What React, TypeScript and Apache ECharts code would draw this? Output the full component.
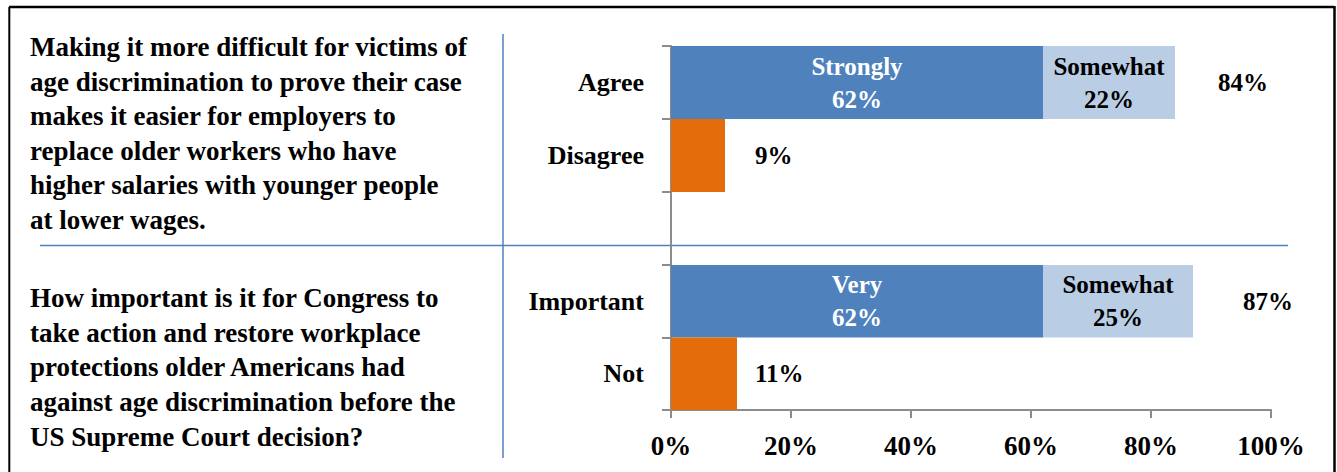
import React, { useEffect, useRef } from "react";
import * as echarts from "echarts";

const topCategories = ["Agree", "Disagree", ""];
const topSegments = ["Strongly", "Somewhat"];
const topPositive = [62, 22];
const topTotal = 84;
const topNegative = 9;

const bottomCategories = ["Important", "Not"];
const bottomSegments = ["Very", "Somewhat"];
const bottomPositive = [62, 25];
const bottomTotal = 87;
const bottomNegative = 11;

const xTicks = [0, 20, 40, 60, 80, 100];

const questionTop = [
  "Making it more difficult for victims of",
  "age discrimination to prove their case",
  "makes it easier for employers to",
  "replace older workers who have",
  "higher salaries with younger people",
  "at lower wages.",
];
const questionBottom = [
  "How important is it for Congress to",
  "take action and restore workplace",
  "protections older Americans had",
  "against age discrimination before the",
  "US Supreme Court decision?",
];

const FONT = "'Liberation Serif', 'Times New Roman', serif";
const BLUE = "#4f81bd";
const LIGHT = "#b9cde5";
const ORANGE = "#e46c0a";
const AXIS = "#8c8c8c";

function App() {
  const ref = useRef<HTMLDivElement>(null);
  useEffect(() => {
    document.body.style.margin = "0";
    const chart = echarts.init(ref.current!, null, { renderer: "svg" });
    const catAxis = (gridIndex: number, data: string[]) => ({
      gridIndex,
      type: "category",
      data,
      inverse: true,
      axisLine: { show: true, lineStyle: { color: AXIS, width: 2 } },
      axisTick: { show: true, length: 9, lineStyle: { color: AXIS, width: 2 } },
      axisLabel: { color: "#000", fontFamily: FONT, fontWeight: "bold", fontSize: 26, margin: 27 },
    });
    const segLabel = (name: string, color: string) => ({
      show: true,
      position: "inside",
      color,
      fontFamily: FONT,
      fontWeight: "bold",
      fontSize: 25,
      lineHeight: 33,
      align: "center",
      formatter: (p: any) => `${name}\n${p.value}%`,
    });
    const outLabel = (distance: number) => ({
      show: true,
      position: "right",
      distance,
      color: "#000",
      opacity: 1,
      fontFamily: FONT,
      fontWeight: "bold",
      fontSize: 25,
      formatter: (p: any) => `${Array.isArray(p.value) ? p.value[0] : p.value}%`,
    });
    const pad = (v: number, idx: number, n: number) =>
      Array.from({ length: n }, (_, i) => (i === idx ? v : "-"));

    const graphic: any[] = [
      { type: "line", shape: { x1: 9, y1: 7, x2: 1334, y2: 7 }, style: { stroke: "#000", lineWidth: 2.5 } },
      { type: "line", shape: { x1: 9.3, y1: 7, x2: 9.3, y2: 472 }, style: { stroke: "#000", lineWidth: 2 } },
      { type: "line", shape: { x1: 1334.5, y1: 6, x2: 1334.5, y2: 472 }, style: { stroke: "#000", lineWidth: 2.5 } },
      { type: "line", shape: { x1: 503, y1: 34, x2: 503, y2: 458 }, style: { stroke: BLUE, lineWidth: 1.5 } },
      { type: "line", shape: { x1: 40, y1: 245.5, x2: 1288, y2: 245.5 }, style: { stroke: BLUE, lineWidth: 1.5 } },
    ];
    questionTop.forEach((t, i) =>
      graphic.push({
        type: "text",
        x: 30,
        y: 47 + i * 34.6,
        style: { text: t, fill: "#000", font: `bold 27px ${FONT}`, textVerticalAlign: "middle" },
      })
    );
    questionBottom.forEach((t, i) =>
      graphic.push({
        type: "text",
        x: 30,
        y: 298 + i * 34.7,
        style: { text: t, fill: "#000", font: `bold 27px ${FONT}`, textVerticalAlign: "middle" },
      })
    );

    const totalSeries = (xi: number, value: number, distance: number) => ({
      type: "scatter",
      xAxisIndex: xi,
      yAxisIndex: xi,
      symbolSize: 0,
      itemStyle: { color: "#000" },
      data: [[value, 0]],
      label: outLabel(distance),
      emphasis: { disabled: true },
    });

    chart.setOption({
      animation: false,
      backgroundColor: "#fff",
      graphic,
      grid: [
        { left: 671, top: 46, width: 600, height: 219 },
        { left: 671, top: 265, width: 600, height: 145 },
      ],
      xAxis: [
        { gridIndex: 0, type: "value", min: 0, max: 100, interval: 20, show: false },
        {
          gridIndex: 1,
          type: "value",
          min: xTicks[0],
          max: xTicks[xTicks.length - 1],
          interval: xTicks[1] - xTicks[0],
          axisLine: { show: true, lineStyle: { color: AXIS, width: 2 } },
          axisTick: { show: true, length: 8, lineStyle: { color: AXIS, width: 2 } },
          splitLine: { show: false },
          axisLabel: { color: "#000", fontFamily: FONT, fontWeight: "bold", fontSize: 27, margin: 22, formatter: "{value}%" },
        },
      ],
      yAxis: [catAxis(0, topCategories), catAxis(1, bottomCategories)],
      series: [
        {
          type: "bar", xAxisIndex: 0, yAxisIndex: 0, stack: "top", barWidth: "100%",
          data: pad(topPositive[0], 0, 3), itemStyle: { color: BLUE }, label: segLabel(topSegments[0], "#fff"),
        },
        {
          type: "bar", xAxisIndex: 0, yAxisIndex: 0, stack: "top", barWidth: "100%",
          data: pad(topPositive[1], 0, 3), itemStyle: { color: LIGHT }, label: segLabel(topSegments[1], "#000"),
        },
        {
          type: "bar", xAxisIndex: 0, yAxisIndex: 0, stack: "top", barWidth: "100%",
          data: pad(topNegative, 1, 3), itemStyle: { color: ORANGE }, label: outLabel(30),
        },
        totalSeries(0, topTotal, 43),
        {
          type: "bar", xAxisIndex: 1, yAxisIndex: 1, stack: "bottom", barWidth: "100%",
          data: pad(bottomPositive[0], 0, 2), itemStyle: { color: BLUE }, label: segLabel(bottomSegments[0], "#fff"),
        },
        {
          type: "bar", xAxisIndex: 1, yAxisIndex: 1, stack: "bottom", barWidth: "100%",
          data: pad(bottomPositive[1], 0, 2), itemStyle: { color: LIGHT }, label: segLabel(bottomSegments[1], "#000"),
        },
        {
          type: "bar", xAxisIndex: 1, yAxisIndex: 1, stack: "bottom", barWidth: "100%",
          data: pad(bottomNegative, 1, 2), itemStyle: { color: ORANGE }, label: outLabel(18),
        },
        totalSeries(1, bottomTotal, 50),
      ],
    });
    return () => chart.dispose();
  }, []);
  return <div ref={ref} style={{ width: 1337, height: 472 }} />;
}

export default App;
